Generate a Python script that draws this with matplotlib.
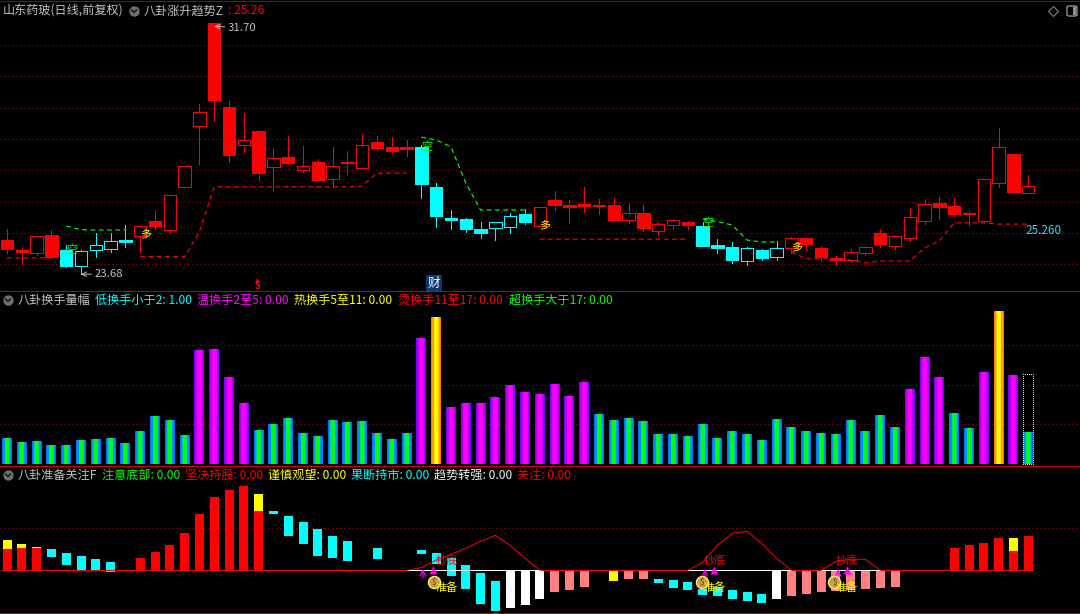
import numpy as np
import matplotlib
matplotlib.use('Agg')
import matplotlib.pyplot as plt
from matplotlib.patches import Rectangle, FancyBboxPatch

plt.rcParams['font.family'] = ['Noto Sans CJK SC', 'DejaVu Sans']

# daily candles
opens = [24.77, 24.45, 24.36, 24.93, 24.45, 23.94, 24.45, 24.48, 24.77, 24.90,
         25.38, 25.09, 26.47, 28.41, 31.70, 29.02, 27.81, 28.25, 27.10, 27.42,
         27.01, 27.26, 26.72, 27.23, 27.07, 27.90, 27.74, 27.74, 27.74, 26.47,
         25.47, 25.44, 25.12, 25.16, 25.19, 25.60, 25.22, 26.05, 25.89, 25.92,
         25.89, 25.89, 25.41, 25.63, 25.06, 25.25, 25.35, 25.22, 24.61, 24.55,
         24.10, 24.45, 24.23, 24.52, 24.84, 24.52, 24.20, 24.13, 24.36, 25.00,
         24.58, 24.84, 25.38, 25.95, 25.86, 25.63, 25.38, 26.59, 27.52, 26.27]
closes = [24.48, 24.39, 24.90, 24.23, 23.94, 24.42, 24.61, 24.74, 24.71, 25.22,
          25.22, 26.21, 27.14, 28.86, 29.25, 27.49, 27.97, 26.91, 27.39, 27.23,
          27.14, 26.69, 27.14, 27.26, 27.81, 27.71, 27.62, 27.68, 26.56, 25.54,
          25.41, 25.12, 25.00, 25.35, 25.54, 25.35, 25.83, 25.89, 25.83, 25.86,
          25.87, 25.41, 25.63, 25.16, 25.28, 25.41, 25.25, 24.58, 24.52, 24.13,
          24.52, 24.20, 24.52, 24.84, 24.64, 24.23, 24.13, 24.39, 24.55, 24.64,
          24.90, 25.51, 25.92, 25.83, 25.60, 25.60, 26.72, 27.74, 26.31, 26.50]
highs = [25.12, 24.55, 24.90, 25.09, 24.61, 24.45, 25.00, 25.00, 25.25, 25.22,
         25.73, 26.21, 27.14, 29.12, 31.70, 29.21, 28.83, 28.25, 27.71, 28.09,
         27.78, 27.36, 27.74, 27.62, 28.16, 28.09, 28.06, 27.97, 27.81, 26.59,
         25.73, 25.47, 25.35, 25.35, 25.63, 25.76, 25.83, 26.34, 26.05, 26.47,
         26.08, 26.11, 25.95, 25.89, 25.35, 25.44, 25.38, 25.35, 24.80, 24.71,
         24.55, 24.48, 24.74, 24.87, 24.84, 24.58, 24.26, 24.48, 24.58, 25.09,
         24.93, 25.79, 26.05, 26.15, 26.11, 25.70, 26.72, 28.35, 27.52, 26.85]
lows = [24.36, 24.04, 24.30, 24.20, 23.91, 23.68, 24.23, 24.39, 24.55, 24.39,
        25.12, 25.00, 26.47, 27.20, 28.57, 27.26, 27.58, 26.66, 26.37, 27.20,
        26.94, 26.69, 26.47, 26.88, 27.07, 27.65, 27.55, 27.46, 26.11, 25.19,
        25.12, 25.03, 24.84, 24.77, 25.00, 25.28, 25.22, 25.73, 25.32, 25.67,
        25.60, 25.41, 25.32, 25.06, 24.93, 25.12, 25.12, 24.58, 24.36, 24.04,
        23.97, 24.13, 24.13, 24.36, 24.45, 24.13, 23.97, 24.07, 24.30, 24.55,
        24.45, 24.74, 25.28, 25.44, 25.54, 25.25, 25.35, 26.47, 26.31, 26.27]
cyan_idx = [4, 5, 6, 7, 8, 28, 29, 30, 31, 32, 33, 34, 35, 47, 48, 49, 50, 51, 52]

N = np.nan
support = [24.20, 24.20, 24.20, 24.20, N, N, N, N, N, 24.24,
           24.24, 24.24, 24.24, 25.03, 26.47, 26.47, 26.47, 26.47, 26.47, 26.47,
           26.47, 26.47, 26.47, 26.47, 26.50, 26.91, 26.91, 26.91, N, N,
           N, N, N, N, N, N, 24.80, 24.80, 24.80, 24.80,
           24.80, 24.80, 24.80, 24.80, 24.80, 24.80, 24.80, N, N, N,
           N, N, N, 24.39, 24.17, 24.17, 24.17, 24.13, 24.04, 24.10,
           24.10, 24.10, 24.52, 24.74, 25.32, 25.32, 25.32, 25.28, 25.28, 25.28]
resist = [N, N, N, N, 25.22, 25.10, 25.09, 25.09, 25.09, N,
          N, N, N, N, N, N, N, N, N, N,
          N, N, N, N, N, N, N, N, 28.06, 27.97,
          27.75, 26.59, 25.73, 25.73, 25.73, 25.73, N, N, N, N,
          N, N, N, N, N, N, N, 25.44, 25.36, 25.25,
          24.77, 24.71, 24.71, N, N, N, N, N, N, N,
          N, N, N, N, N, N, N, N, N, N]
duo_idx = [9, 36, 53]
duo_y = [24.95, 25.25, 24.55]
kong_idx = [4, 28, 47]
kong_y = [24.45, 27.75, 25.30]

# turnover bars
turnover = [0.98, 0.83, 0.87, 0.72, 0.72, 0.91, 0.94, 0.98, 0.79, 1.25,
            1.81, 1.66, 1.09, 4.30, 4.34, 3.28, 2.30, 1.28, 1.51, 1.74,
            1.17, 1.06, 1.66, 1.58, 1.62, 1.17, 0.94, 1.17, 4.75, 5.55,
            2.15, 2.30, 2.30, 2.53, 2.98, 2.72, 2.64, 3.02, 2.57, 3.09,
            1.89, 1.66, 1.74, 1.62, 1.13, 1.13, 1.06, 1.51, 0.98, 1.25,
            1.13, 0.91, 1.70, 1.40, 1.25, 1.17, 1.13, 1.66, 1.25, 1.85,
            1.40, 2.83, 4.04, 3.28, 1.92, 1.36, 3.47, 5.77, 3.36, 1.21]
last_box = 3.38

# lower panel
red_idx = [0, 1, 2, 9, 10, 11, 12, 13, 14, 15, 16, 17, 64, 65, 66, 67, 68, 69]
red_top = [21.3, 22.3, 22.3, 12.3, 18.3, 25.3, 37.3, 56.3, 73.3, 80.3, 84.3, 59.3,
           22.3, 25.3, 27.3, 32.3, 19.3, 34.3]
yellow_idx = [0, 1, 2, 17, 68]
yellow_lo = [21.3, 22.3, 22.3, 59.3, 19.3]
yellow_hi = [30.3, 26.3, 23.3, 76.3, 32.3]
cyan2_idx = [3, 4, 5, 6, 7, 18, 19, 20, 21, 22, 23, 25, 28, 29, 30, 31, 32, 33,
             44, 45, 46, 47, 48, 49, 50, 51]
cyan2_hi = [21.3, 17.3, 14.3, 11.3, 8.3, 59.3, 54.3, 48.3, 41.3, 34.3, 29.3, 22.3,
            20.3, 17.3, 12.3, 5.3, -2.7, -10.7,
            -8.7, -9.7, -11.7, -18.7, -16.7, -19.7, -21.7, -23.7]
cyan2_lo = [13.3, 5.3, 0.3, 0.3, -1.7, 56.3, 34.3, 26.3, 14.3, 12.3, 9.3, 11.3,
            16.3, 6.3, -5.7, -18.7, -33.7, -40.7,
            -12.7, -17.7, -19.7, -24.7, -25.7, -28.7, -30.7, -32.7]
white_idx = [34, 35, 36, 52]
white_lo = [-37.7, -34.7, -28.7, -28.7]
pink_idx = [37, 38, 39, 42, 43, 53, 54, 55, 56, 57, 58, 59, 60]
pink_lo = [-21.7, -19.7, -16.7, -8.7, -8.7, -25.7, -23.7, -21.7, -20.7, -19.7, -18.7,
           -17.7, -16.7]
neg_yellow_idx = [41]
neg_yellow_lo = [-10.7]
curve_idx = [[27, 28, 29, 30, 31, 32, 33, 34, 35, 36],
             [46, 47, 48, 49, 50, 51, 52, 53],
             [55, 56, 57, 58, 59]]
curve_val = [[0, 2.7, 10.3, 16, 22, 29, 35, 25, 12, 0],
             [0, 8, 25, 37, 39, 27, 12, 0],
             [0, 8.7, 11, 11, 0]]
text_x = [29.7, 47.8, 56.75]
arrow_x = [28.1, 47.16, 56.15]
tri_x = [28.8, 47.77, 56.76]
bag_x = [28.85, 46.96, 55.9]

W, H = 1080, 614
STEP = 14.8
RED = '#ff0000'
CYAN = '#00ffff'
YEL = '#ffff00'
GRID = '#c00000'
GRAY = '#c0c0c0'
DOTS = (0, (1, 3))


def panel(top, bottom, ylo, yhi):
    ax = fig.add_axes([0, 1 - bottom / H, 1, (bottom - top) / H])
    ax.set_facecolor('black')
    ax.set_xlim(-7 / STEP, (W - 7) / STEP)
    ax.set_ylim(ylo, yhi)
    ax.axis('off')
    return ax


def label(x, y, s, color, size=8.7, **kw):
    fig.text(x / W, 1 - y / H, s, color=color, fontsize=size, va='center', **kw)


def menu_dot(x, y):
    fig.add_artist(plt.Line2D([x / W], [1 - y / H], marker='o', ms=7.5, color='#6e6e6e', mew=0))
    fig.add_artist(plt.Line2D([(x - 2.5) / W, x / W, (x + 2.5) / W],
                              [1 - (y - 1) / H, 1 - (y + 1.5) / H, 1 - (y - 1) / H],
                              color='#111111', lw=1))


fig = plt.figure(figsize=(W / 100, H / 100), dpi=100, facecolor='black')
ax1 = panel(0, 291, 23.143, 32.44)
ax2 = panel(291, 466, -0.075, 6.53)
ax3 = panel(466, 614, -43.7, 104.3)

# top panel
for g in [31, 30, 29, 28, 27, 26, 25, 24]:
    ax1.axhline(g, color=GRID, lw=0.72, ls=DOTS, zorder=1)
for i in range(len(opens)):
    col = CYAN if i in cyan_idx else RED
    hollow = closes[i] > opens[i]
    ax1.vlines(i, lows[i], highs[i], color=col, lw=0.72, zorder=2, antialiased=False)
    lo, hi = min(opens[i], closes[i]), max(opens[i], closes[i])
    ax1.bar(i, hi - lo, bottom=lo, width=0.83, facecolor='black' if hollow else col,
            edgecolor=col, lw=0.72, zorder=3, antialiased=False)
x = np.arange(len(opens))
ax1.plot(x, support, color=RED, lw=0.85, ls=(0, (4, 3)), zorder=4)
ax1.plot(x, resist, color='#00ff00', lw=0.85, ls=(0, (4, 3)), zorder=4)
for i, y in zip(duo_idx, duo_y):
    ax1.text(i + 0.35, y, '多', color=YEL, fontsize=8, ha='center', va='center', zorder=5)
for i, y in zip(kong_idx, kong_y):
    ax1.text(i + 0.35, y, '空', color='#00ff00', fontsize=8, ha='center', va='center', zorder=5)
ax1.annotate('31.70', xy=(14, 31.60), xytext=(14.9, 31.55), color=GRAY, fontsize=8.2, va='center',
             arrowprops=dict(arrowstyle='->', color=GRAY, lw=0.7, shrinkA=0, shrinkB=0))
ax1.annotate('23.68', xy=(5, 23.68), xytext=(5.9, 23.68), color=GRAY, fontsize=8.2, va='center',
             arrowprops=dict(arrowstyle='->', color=GRAY, lw=0.7, shrinkA=0, shrinkB=0))
ax1.text(68.8, 25.06, '25.260', color='#40d0ff', fontsize=8.4, va='center')

# turnover panel, nested bands give the colour gradient of each class
cold = ['#0070ff', '#0090ff', '#00c8b0', '#00f050', '#00ff00']
warm = ['#8000ff', '#b000ff', '#e000ff', '#ff00ff', '#ff00ff']
hot = ['#ff7800', '#ffa000', '#ffc800', '#ffe800', '#ffff00']
band_w = [10, 8, 5, 4, 3]
for g in [1.5, 3.0, 4.5]:
    ax2.axhline(g, color=GRID, lw=0.72, ls=DOTS, zorder=1)
for i, v in enumerate(turnover):
    band = cold if v < 2 else warm if v < 5 else hot
    for c, bw in zip(band, band_w):
        ax2.bar(i, v, width=bw / STEP, color=c, zorder=2, lw=0, antialiased=False)
ax2.add_patch(Rectangle((69 - 5 / STEP, 0), 10 / STEP, last_box, fill=False, ec=YEL,
                        lw=0.72, ls=(0, (1, 1.5)), zorder=3, antialiased=False))

# lower panel
ax3.axhline(42, color=GRID, lw=0.72, ls=DOTS, zorder=1)
w3 = 9 / STEP
ax3.bar(red_idx, red_top, width=w3, color=RED, zorder=2, lw=0, antialiased=False)
ax3.bar(yellow_idx, np.array(yellow_hi) - np.array(yellow_lo), bottom=yellow_lo, width=w3, color=YEL,
        zorder=2, lw=0, antialiased=False)
ax3.bar(cyan2_idx, np.array(cyan2_hi) - np.array(cyan2_lo), bottom=cyan2_lo, width=w3, color=CYAN,
        zorder=2, lw=0, antialiased=False)
ax3.bar(white_idx, white_lo, width=w3, color='white', zorder=2, lw=0, antialiased=False)
ax3.bar(pink_idx, pink_lo, width=w3, color='#ff8080', zorder=2, lw=0, antialiased=False)
ax3.bar(neg_yellow_idx, neg_yellow_lo, width=w3, color=YEL, zorder=2, lw=0, antialiased=False)
ax3.plot([-0.35, 69.35], [0, 0], color=RED, lw=0.72, zorder=3, antialiased=False)
for ci, cv in zip(curve_idx, curve_val):
    ax3.plot(ci, [0] * len(ci), color='white', lw=0.72, zorder=3, antialiased=False)
    ax3.plot(ci, cv, color=RED, lw=0.72, zorder=4)
for k in range(3):
    ax3.text(text_x[k], 10, '抄底', color=RED, fontsize=8, ha='center', va='center', zorder=6)
    ax3.text(text_x[k], -17, '准备', color=YEL, fontsize=8, ha='center', va='center', zorder=7)
    ax3.annotate('', xy=(arrow_x[k], 1), xytext=(arrow_x[k], -8),
                 arrowprops=dict(arrowstyle='->', color='#ff00ff', lw=0.8, shrinkA=0, shrinkB=0), zorder=5)
    ax3.scatter([tri_x[k]], [0], marker='^', s=32, color='#ff00ff', lw=0, zorder=5)
    ax3.scatter([bag_x[k]], [-12], marker='o', s=75, color='#c8a040', edgecolor='#fff080', lw=1, zorder=6)
    ax3.text(bag_x[k], -12, '$', color='#704000', fontsize=6, ha='center', va='center', zorder=7)

# frame lines
for yy, cc in [(1, '#a00000'), (291, '#c00000'), (466, '#d00000'), (612.5, '#c00000')]:
    fig.add_artist(plt.Line2D([0, 1], [1 - yy / H, 1 - yy / H], color=cc, lw=0.72, antialiased=False))

# titles
label(3, 11, '山东药玻(日线,前复权)', GRAY)
menu_dot(134, 11)
label(144, 11, '八卦涨升趋势Z', GRAY)
label(228, 11, ': 25.26', RED)
menu_dot(8, 300)
label(18, 300, '八卦换手量幅', GRAY)
label(95, 300, '低换手小于2: 1.00', CYAN)
label(197, 300, '温换手2至5: 0.00', '#ff00ff')
label(294, 300, '热换手5至11: 0.00', YEL)
label(398, 300, '烫换手11至17: 0.00', RED)
label(509, 300, '超换手大于17: 0.00', '#00ff00')
menu_dot(8, 475)
label(18, 475, '八卦准备关注F', GRAY)
label(102, 475, '注意底部: 0.00', '#00ff00')
label(185, 475, '坚决持股: 0.00', RED)
label(268, 475, '谨慎观望: 0.00', YEL)
label(351, 475, '果断持市: 0.00', CYAN)
label(434, 475, '趋势转强: 0.00', '#f0f0f0')
label(517, 475, '关注: 0.00', RED)

# corner icons and event tags
fig.add_artist(plt.Line2D([1053 / W], [1 - 11 / H], marker='D', ms=5.5, mfc='none', mec='#909090', mew=0.7))
fig.add_artist(FancyBboxPatch((1067 / W, 1 - 16 / H), 10 / W, 10 / H, boxstyle='round,pad=0,rounding_size=0.002',
                              fc='none', ec='#909090', lw=1, transform=fig.transFigure))
fig.add_artist(Rectangle((1073 / W, 1 - 15 / H), 3 / W, 8 / H, fc='#909090', ec='none',
                         transform=fig.transFigure))
fig.add_artist(plt.Line2D([257 / W], [1 - 280 / H], marker='^', ms=3.5, color=RED, mew=0))
fig.text(257 / W, 1 - 286 / H, '$', color=RED, fontsize=7, ha='center', va='center', fontweight='bold')
fig.text(434 / W, 1 - 283 / H, '财', color='white', fontsize=9, ha='center', va='center',
         bbox=dict(facecolor='#103a70', edgecolor='none', pad=1))

fig.savefig('out.png', dpi=100, facecolor='black')
